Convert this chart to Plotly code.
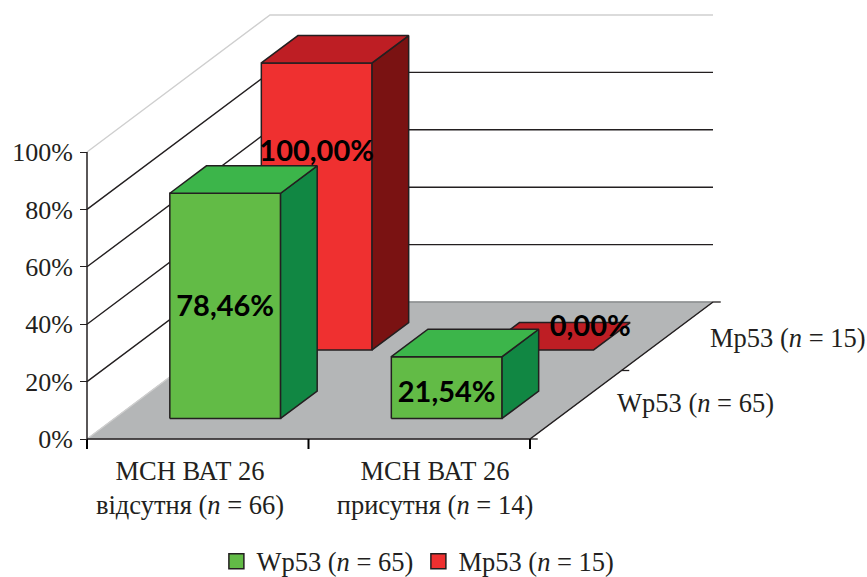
import plotly.graph_objects as go

# Chart data
categories = ["МСН ВАТ 26<br>відсутня (<i>n</i> = 66)", "МСН ВАТ 26<br>присутня (<i>n</i> = 14)"]
series_names = ["Wp53 (<i>n</i> = 65)", "Mp53 (<i>n</i> = 15)"]
wp53_values = [78.46, 21.54]
mp53_values = [100.0, 0.0]
value_ticks = [0, 20, 40, 60, 80, 100]
value_tick_labels = ["0%", "20%", "40%", "60%", "80%", "100%"]

# Canvas and oblique projection
W, H = 867, 577
X0_PX, Y0_PX = 87, 439      # pixel position of the front-left floor corner
PX_PER_CAT = 221.5
PX_PER_PCT = 2.87
DEPTH_DX = 183 / PX_PER_CAT   # shift of the full chart depth, in category units
DEPTH_DY = 137 / PX_PER_PCT   # shift of the full chart depth, in percent units

BAR_GAP, BAR_WIDTH = 0.25, 0.5
ROW_FRONT = [0.15, 0.65]
ROW_DEPTH = 0.2

FONT = "Liberation Serif"
TEXT_SIZE = 26.5
INK = "#231F20"
PALE = "#CFCFCF"
FLOOR = "#B4B6B7"
GREEN = {"front": "#62BB46", "top": "#3CB54A", "side": "#118743"}
RED = {"front": "#EF3030", "top": "#BE1E24", "side": "#7A1212"}


def project(x, z, d):
    """Map category position, percent height and depth to plot coordinates."""
    return x + d * DEPTH_DX, z + d * DEPTH_DY


fig = go.Figure()


def polygon(points, fill=None, line=INK, width=1.5):
    xs, ys = zip(*[project(*p) for p in points])
    fig.add_trace(go.Scatter(
        x=list(xs), y=list(ys), mode="lines",
        fill="toself" if fill else "none", fillcolor=fill,
        line=dict(color=line, width=width),
        hoverinfo="skip", showlegend=False,
    ))


def bar(cat, row, value, colors):
    x0, x1 = cat + BAR_GAP, cat + BAR_GAP + BAR_WIDTH
    d0, d1 = ROW_FRONT[row], ROW_FRONT[row] + ROW_DEPTH
    if value > 0:
        polygon([(x0, 0, d0), (x1, 0, d0), (x1, value, d0), (x0, value, d0), (x0, 0, d0)], colors["front"])
        polygon([(x1, 0, d0), (x1, 0, d1), (x1, value, d1), (x1, value, d0), (x1, 0, d0)], colors["side"])
    polygon([(x0, value, d0), (x1, value, d0), (x1, value, d1), (x0, value, d1), (x0, value, d0)], colors["top"])


# Walls: gridlines along the side wall and the back wall
for v in value_ticks[1:]:
    color = PALE if v == value_ticks[-1] else INK
    polygon([(0, v, 0), (0, v, 1), (2, v, 1)], line=color, width=1.4)

# Floor
polygon([(0, 0, 0), (2, 0, 0), (2, 0, 1), (0, 0, 1), (0, 0, 0)], FLOOR, line=FLOOR, width=1)
polygon([(0, 0, 1), (2, 0, 1)], line="#8A8C8E", width=1.4)
polygon([(0, 0, 0), (0, 0, 1)], line=PALE, width=1.4)

# Bars, back row first so the front row overlaps it
for i, v in enumerate(mp53_values):
    bar(i, 1, v, RED)
for i, v in enumerate(wp53_values):
    bar(i, 0, v, GREEN)

# Axis lines and depth-axis ticks
polygon([(0, 0, 0), (0, value_ticks[-1], 0)], line=INK, width=1.5)
polygon([(0, 0, 0), (2, 0, 0), (2, 0, 1)], line=INK, width=1.5)
for d in (0, 0.5, 1):
    polygon([(2, 0, d), (2 + 0.035, 0, d)], line=INK, width=1.3)

# Category-boundary ticks under the floor edge
for c in (0, 1, 2):
    polygon([(c, 0, 0), (c, -10 / PX_PER_PCT, 0)], line="#000000", width=2)

# Legend entries
for name, color in zip(series_names, (GREEN["front"], RED["front"])):
    fig.add_trace(go.Scatter(
        x=[None], y=[None], mode="markers", name=name,
        marker=dict(symbol="square", size=15, color=color, line=dict(color=INK, width=1.5)),
    ))

# Value labels on the bars: (category, row) -> height fraction, x and height nudges
label_place = {
    (0, 0): (0.5, 0.0, -1.0),
    (1, 0): (0.5, 0.0, -2.5),
    (0, 1): (0.682, 0.0, 0.0),
    (1, 1): (0.5, 0.235, 7.5),
}
label_x, label_y, label_text = [], [], []
for row, values in enumerate((wp53_values, mp53_values)):
    for cat, v in enumerate(values):
        frac, dx, dz = label_place[(cat, row)]
        x, y = project(cat + BAR_GAP + BAR_WIDTH / 2 + dx, v * frac + dz, ROW_FRONT[row])
        label_x.append(x)
        label_y.append(y)
        label_text.append(f"{v:.2f}".replace(".", ",") + "%")
fig.add_trace(go.Scatter(
    x=label_x, y=label_y, text=label_text, mode="text", textposition="middle center",
    textfont=dict(family="Lato", size=29, color="black", weight="bold"),
    hoverinfo="skip", showlegend=False, cliponaxis=False,
))

# Series names along the depth axis
for d, name, shift, yshift in ((0.25, series_names[0], 39, 2), (0.75, series_names[1], 41, -2)):
    x, y = project(2, 0, d)
    fig.add_annotation(
        x=x, y=y, text=name, showarrow=False, xanchor="left", yanchor="middle",
        xshift=shift, yshift=yshift, font=dict(family=FONT, size=TEXT_SIZE, color=INK),
    )

fig.update_layout(
    width=W, height=H, margin=dict(l=0, r=0, t=0, b=0, autoexpand=False),
    paper_bgcolor="white", plot_bgcolor="white",
    font=dict(family=FONT, size=TEXT_SIZE, color=INK),
    xaxis=dict(
        range=[-X0_PX / PX_PER_CAT, (W - X0_PX) / PX_PER_CAT],
        anchor="free", position=(H - Y0_PX) / H,
        showgrid=False, zeroline=False, showline=False,
        tickmode="array", tickvals=[0.465, 1.571], ticktext=categories, ticks="",
        tickangle=0, ticklabelstandoff=13,
        tickfont=dict(family=FONT, size=TEXT_SIZE, color=INK),
    ),
    yaxis=dict(
        range=[-(H - Y0_PX) / PX_PER_PCT, Y0_PX / PX_PER_PCT],
        anchor="free", position=X0_PX / W,
        showgrid=False, zeroline=False, showline=False,
        tickmode="array", tickvals=value_ticks, ticktext=value_tick_labels,
        ticks="outside", ticklen=7, tickcolor=INK, tickwidth=1.3, ticklabelstandoff=2,
        tickfont=dict(family=FONT, size=26, color=INK),
    ),
    legend=dict(
        orientation="h", x=0.482, xanchor="center", y=0.027, yanchor="middle",
        font=dict(family=FONT, size=TEXT_SIZE, color=INK), bgcolor="rgba(0,0,0,0)",
    ),
)

fig.write_html("out.html")
